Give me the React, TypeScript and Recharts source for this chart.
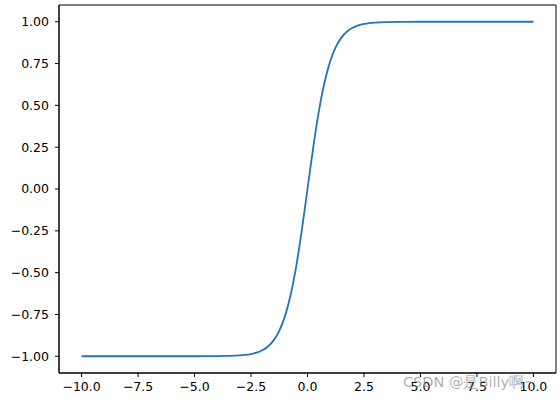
import { LineChart, Line, XAxis, YAxis, ReferenceArea } from "recharts";

// x samples and tanh-shaped values
const xs = [
  -10, -8, -6, -5, -4, -3.5, -3, -2.75, -2.5, -2.25, -2, -1.75, -1.5, -1.25,
  -1, -0.75, -0.5, -0.25, 0, 0.25, 0.5, 0.75, 1, 1.25, 1.5, 1.75, 2, 2.25,
  2.5, 2.75, 3, 3.5, 4, 5, 6, 8, 10,
];
const ys = [
  -1.0, -1.0, -1.0, -0.9999, -0.9993, -0.9982, -0.9951, -0.9919, -0.9866,
  -0.978, -0.964, -0.9414, -0.9051, -0.8483, -0.7616, -0.6351, -0.4621,
  -0.2449, 0, 0.2449, 0.4621, 0.6351, 0.7616, 0.8483, 0.9051, 0.9414, 0.964,
  0.978, 0.9866, 0.9919, 0.9951, 0.9982, 0.9993, 0.9999, 1.0, 1.0, 1.0,
];
const xTicks = [-10, -7.5, -5, -2.5, 0, 2.5, 5, 7.5, 10];
const yTicks = [-1, -0.75, -0.5, -0.25, 0, 0.25, 0.5, 0.75, 1];
const xDomain = [-11, 11];
const yDomain = [-1.1, 1.1];

const data = xs.map((x, i) => ({ x, y: ys[i] }));

const fmt = (digits: number) => (v: number) =>
  v.toFixed(digits).replace("-", "\u2212");

const tickStyle = { fontSize: 12.5, fill: "#000", fontFamily: "DejaVu Sans" };

export default function App() {
  return (
    <div style={{ position: "fixed", left: 0, top: 0, width: 560, height: 403, background: "#fff" }}>
      <LineChart
        width={560}
        height={403}
        data={data}
        margin={{ top: 5, right: 4, bottom: 0, left: 0 }}
      >
        <XAxis
          dataKey="x"
          type="number"
          domain={xDomain}
          ticks={xTicks}
          tickFormatter={fmt(1)}
          tick={tickStyle}
          stroke="#000"
          tickSize={4}
          tickMargin={5}
          height={30}
          allowDataOverflow
        />
        <YAxis
          type="number"
          domain={yDomain}
          ticks={yTicks}
          tickFormatter={fmt(2)}
          tick={tickStyle}
          stroke="#000"
          tickSize={4}
          tickMargin={6}
          width={59}
          allowDataOverflow
        />
        {/* matplotlib-style frame around the plot */}
        <ReferenceArea
          x1={xDomain[0]}
          x2={xDomain[1]}
          y1={yDomain[0]}
          y2={yDomain[1]}
          fill="none"
          fillOpacity={0}
          stroke="#000"
          strokeOpacity={1}
          strokeWidth={1}
          ifOverflow="visible"
        />
        <Line
          dataKey="y"
          type="monotone"
          stroke="#1f77b4"
          strokeWidth={1.8}
          dot={false}
          isAnimationActive={false}
        />
      </LineChart>
      <div
        style={{
          position: "absolute",
          left: 403,
          top: 373,
          fontFamily: "DejaVu Sans",
          fontSize: 14.5,
          color: "rgba(140,140,140,0.7)",
          whiteSpace: "nowrap",
        }}
      >
        CSDN @是Billy啊~
      </div>
    </div>
  );
}
